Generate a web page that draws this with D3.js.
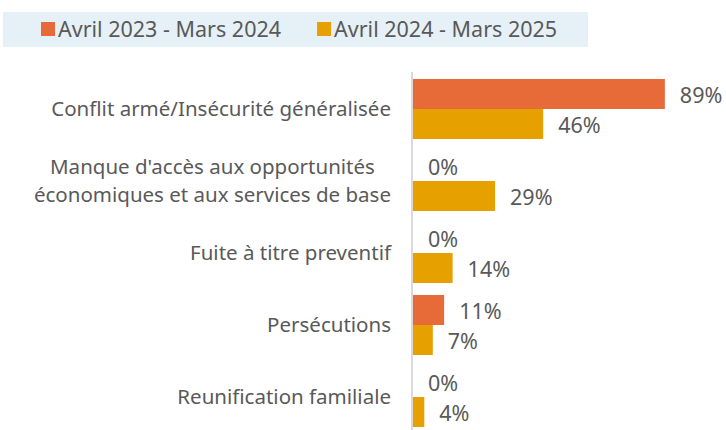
<!DOCTYPE html>
<html>
<head>
<meta charset="utf-8">
<script src="https://cdn.jsdelivr.net/npm/d3@7"></script>
<style>
  body { margin: 0; background: #fff; }
  text { font-family: "Noto Sans", "Open Sans", sans-serif; fill: #595959; }
</style>
</head>
<body>
<div id="chart"></div>
<script>
var categories = [
    ["Conflit armé/Insécurité généralisée"],
    ["Manque d'accès aux opportunités", "économiques et aux services de base"],
    ["Fuite à titre preventif"],
    ["Persécutions"],
    ["Reunification familiale"]
];
var seriesNames = ["Avril 2023 - Mars 2024", "Avril 2024 - Mars 2025"];
var values2023 = [89, 0, 0, 11, 0];
var values2024 = [46, 29, 14, 7, 4];
var colors = ["#E66B39", "#E6A000"];

var width = 726, height = 430;
var svg = d3.select("#chart").append("svg")
    .attr("width", width)
    .attr("height", height);

// legend box
var legend = svg.append("g");
legend.append("rect")
    .attr("x", 3).attr("y", 12)
    .attr("width", 585).attr("height", 35)
    .attr("fill", "#E6F0F7");

var lx = 41;
seriesNames.forEach(function (name, i) {
    legend.append("rect")
        .attr("x", lx).attr("y", 22)
        .attr("width", 14).attr("height", 14)
        .attr("fill", colors[i]);
    var t = legend.append("text")
        .attr("x", lx + 17).attr("y", 29)
        .attr("dy", "0.35em")
        .style("font-size", "21.5px")
        .text(name);
    lx += 17 + t.node().getComputedTextLength() + 36;
});

var x = d3.scaleLinear().domain([0, 100]).range([413, 696]);

var y0 = d3.scaleBand()
    .domain(d3.range(categories.length))
    .range([73, 433])
    .paddingInner(1 / 6)
    .paddingOuter(1 / 12);

var y1 = d3.scaleBand()
    .domain([0, 1])
    .range([0, y0.bandwidth()]);

var data = categories.map(function (c, i) {
    return { label: c, vals: [values2023[i], values2024[i]] };
});

var groups = svg.selectAll(".grp")
    .data(data)
    .enter().append("g")
    .attr("class", "grp")
    .attr("transform", function (d, i) { return "translate(0," + y0(i) + ")"; });

groups.selectAll("rect")
    .data(function (d) { return d.vals; })
    .enter().append("rect")
    .attr("x", x(0))
    .attr("y", function (d, j) { return y1(j); })
    .attr("width", function (d) { return x(d) - x(0); })
    .attr("height", y1.bandwidth())
    .attr("fill", function (d, j) { return colors[j]; });

groups.selectAll(".val")
    .data(function (d) { return d.vals; })
    .enter().append("text")
    .attr("class", "val")
    .attr("x", function (d) { return x(d) + 15; })
    .attr("y", function (d, j) { return y1(j) + y1.bandwidth() / 2 + 1; })
    .attr("dy", "0.35em")
    .style("font-size", "21.5px")
    .text(function (d) { return d + "%"; });

// category labels, multi-line ones centred inside their block
groups.each(function (d) {
    var g = d3.select(this);
    var n = d.label.length;
    var lineH = 28;
    var mid = y0.bandwidth() / 2;
    var texts = d.label.map(function (line, k) {
        return g.append("text")
            .attr("y", mid + (k - (n - 1) / 2) * lineH)
            .attr("dy", "0.35em")
            .style("font-size", "20.5px")
            .attr("text-anchor", "middle")
            .text(line);
    });
    var maxW = d3.max(texts, function (t) { return t.node().getComputedTextLength(); });
    texts.forEach(function (t) { t.attr("x", 391 - maxW / 2); });
});

// axis line
svg.append("line")
    .attr("x1", 412).attr("x2", 412)
    .attr("y1", 72).attr("y2", 432)
    .attr("stroke", "#D9D9D9")
    .attr("stroke-width", 2);
</script>
</body>
</html>
